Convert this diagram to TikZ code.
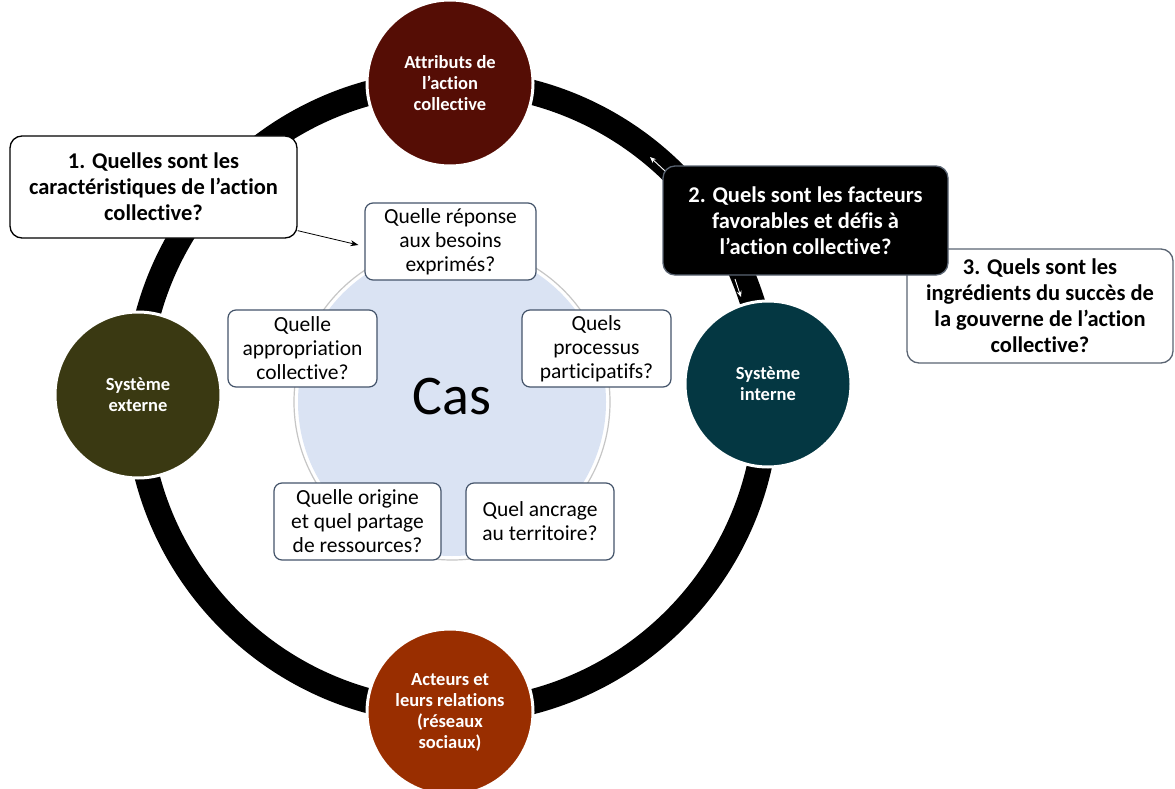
\documentclass[tikz,border=0pt]{standalone}
\usepackage{fontspec}
\setmainfont{Carlito}[Ligatures={NoCommon,NoContextual},Contextuals={NoAlternate}]
\usetikzlibrary{arrows.meta,calc}
\definecolor{cTop}{RGB}{85,13,5}
\definecolor{cLeft}{RGB}{58,57,18}
\definecolor{cRight}{RGB}{4,55,66}
\definecolor{cBot}{RGB}{153,46,0}
\definecolor{cCas}{RGB}{218,227,243}
\definecolor{cBorder}{RGB}{68,84,106}
\definecolor{cGrayB}{RGB}{90,100,114}
\tikzset{
  bigcirc/.style={circle, draw=white, line width=3pt, minimum size=166pt, inner sep=0pt,
    text=white, align=center, font=\fontsize{18.5}{21}\selectfont\bfseries},
  qbox/.style={draw=cBorder, line width=1.2pt, rounded corners=8pt, fill=white, align=center,
    inner sep=0pt, font=\fontsize{21.5}{24}\selectfont},
  bigq/.style={rounded corners=12pt, line width=1.3pt, align=center, inner sep=0pt,
    font=\fontsize{22.5}{26}\selectfont\bfseries},
  ringarrow/.style={white, line width=0.9pt, -{Stealth[length=6pt,width=5pt]}},
}
\begin{document}
\begin{tikzpicture}[x=1pt,y=-1pt]
\useasboundingbox (0,0) rectangle (1175,789);
\fill[white] (0,0) rectangle (1175,789);
% ring
\draw[black, line width=25pt] (452,397) circle (315);
% inner circle
\draw[gray!45, line width=1.2pt] (452,402) circle (158);
\fill[cCas] (452,402) circle (154);
\node[font=\fontsize{56}{60}\selectfont] (cas) at (452,397) {Cas};
% ring arrows
\coordinate (a1s) at (665,171);
\coordinate (a1e) at (650,157);
\coordinate (a2s) at (735,279);
\coordinate (a2e) at (741,297);
\draw[ringarrow] (a1s) -- (a1e);
\draw[ringarrow] (a2s) -- (a2e);
% outer circles
\node[bigcirc, fill=cTop] (top) at (450,83) {Attributs de\\l’action\\collective};
\node[bigcirc, fill=cLeft] (left) at (138,395) {Système\\externe};
\node[bigcirc, fill=cRight] (right) at (768,384) {Système\\interne};
\node[bigcirc, fill=cBot] (bot) at (450,712) {Acteurs et\\leurs relations\\(réseaux\\sociaux)};
% inner boxes
\node[qbox, minimum width=171pt, minimum height=77pt] (r1) at (450.5,241.5) {Quelle réponse\\aux besoins\\exprimés?};
\node[qbox, minimum width=149pt, minimum height=77pt] (r2) at (302.5,348.5) {Quelle\\appropriation\\collective?};
\node[qbox, minimum width=149pt, minimum height=77pt] (r3) at (596.5,348.5) {Quels\\processus\\participatifs?};
\node[qbox, minimum width=167pt, minimum height=77pt] (r4) at (357.5,521.5) {Quelle origine\\et quel partage\\de ressources?};
\node[qbox, minimum width=148pt, minimum height=77pt] (r5) at (540,521.5) {Quel ancrage\\au territoire?};
% question boxes
\node[bigq, draw=cGrayB, fill=white, minimum width=266pt, minimum height=114pt] (q3) at (1040,306) {3. Quels sont les\\ingrédients du succès de\\la gouverne de l’action\\collective?};
\node[bigq, draw=cGrayB, fill=black, text=white, minimum width=285pt, minimum height=109pt] (q2) at (805.5,220.5) {2. Quels sont les facteurs\\favorables et défis à\\l’action collective?};
\node[bigq, draw=black, fill=white, minimum width=287pt, minimum height=102pt] (q1) at (153.5,187) {1. Quelles sont les\\caractéristiques de l’action\\collective?};
% connector
\draw[black, line width=0.8pt, -{Stealth[length=8pt,width=6pt]}] ([yshift=8pt]q1.south east) -- ([xshift=-6pt,yshift=-3.5pt]r1.west);
\end{tikzpicture}
\end{document}
